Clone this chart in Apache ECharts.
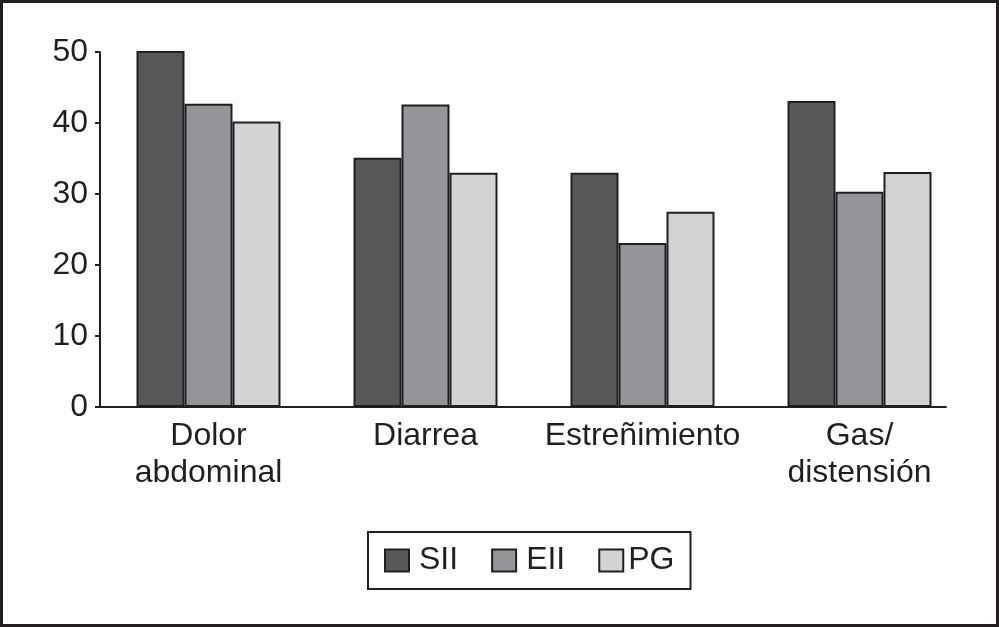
<!DOCTYPE html>
<html>
<head>
<meta charset="utf-8">
<script src="https://cdn.jsdelivr.net/npm/echarts@6/dist/echarts.min.js"></script>
<style>
  html, body { margin: 0; padding: 0; background: #ffffff; }
  #chart { width: 999px; height: 627px; }
</style>
</head>
<body>
<div id="chart"></div>
<script>
const categories = ['Dolor\nabdominal', 'Diarrea', 'Estreñimiento', 'Gas/\ndistensión'];
const seriesNames = ['SII', 'EII', 'PG'];
const valuesSII = [50.3, 35.1, 33.0, 43.1];
const valuesEII = [42.7, 42.6, 23.1, 30.3];
const valuesPG = [40.2, 33.0, 27.5, 33.1];
const yTicks = [0, 10, 20, 30, 40, 50];

const colors = ['#58585a', '#939598', '#d1d3d4'];
const ink = '#231f20';
const font = '"Liberation Sans", Arial, Helvetica, sans-serif';

const chart = echarts.init(document.getElementById('chart'), null, { renderer: 'canvas' });

const allValues = [valuesSII, valuesEII, valuesPG];

chart.setOption({
  animation: false,
  backgroundColor: '#ffffff',
  textStyle: { fontFamily: font, color: ink },
  graphic: [{
    type: 'rect',
    shape: { x: 1.5, y: 1.5, width: 996, height: 624 },
    style: { fill: 'none', stroke: ink, lineWidth: 3 },
    silent: true
  }],
  legend: {
    data: [
      { name: seriesNames[0] },
      { name: seriesNames[1] },
      { name: seriesNames[2], textStyle: { padding: [0, 0, 0, 0] } }
    ],
    left: 368,
    top: 532,
    orient: 'horizontal',
    icon: 'rect',
    itemWidth: 24,
    itemHeight: 22,
    itemGap: 33,
    padding: [12, 16, 12, 16],
    borderColor: ink,
    borderWidth: 2,
    selectedMode: false,
    textStyle: { fontSize: 32, fontFamily: font, color: ink, lineHeight: 33, padding: [0, 0, 0, 5] }
  },
  grid: [
    { left: 100, width: 868, top: 52, bottom: 220, containLabel: false },
    { left: 100, width: 846, top: 52, bottom: 220, containLabel: false }
  ],
  xAxis: [
    {
      type: 'category',
      gridIndex: 0,
      data: categories,
      axisLine: { show: false },
      axisTick: { show: false },
      axisLabel: {
        interval: 0,
        margin: 11,
        fontSize: 32,
        lineHeight: 37,
        color: ink,
        fontFamily: font
      }
    },
    {
      type: 'value',
      gridIndex: 1,
      min: 0,
      max: 1,
      axisLine: { show: true, lineStyle: { color: ink, width: 2 } },
      axisTick: { show: false },
      axisLabel: { show: false },
      splitLine: { show: false }
    }
  ],
  yAxis: [
    {
      type: 'value',
      gridIndex: 0,
      min: yTicks[0],
      max: yTicks[yTicks.length - 1],
      interval: 10,
      axisLine: { show: true, lineStyle: { color: ink, width: 2 } },
      axisTick: { show: true, length: 5, lineStyle: { color: ink, width: 2 } },
      axisLabel: { margin: 12, fontSize: 32, color: ink, fontFamily: font },
      splitLine: { show: false }
    },
    {
      type: 'value',
      gridIndex: 1,
      min: 0,
      max: 1,
      show: false
    }
  ],
  series: seriesNames.map((name, i) => ({
    name: name,
    type: 'bar',
    xAxisIndex: 0,
    yAxisIndex: 0,
    data: allValues[i],
    barWidth: 48,
    barGap: '0%',
    itemStyle: { color: colors[i], borderColor: ink, borderWidth: 2 },
    emphasis: { disabled: true }
  }))
});
</script>
</body>
</html>
